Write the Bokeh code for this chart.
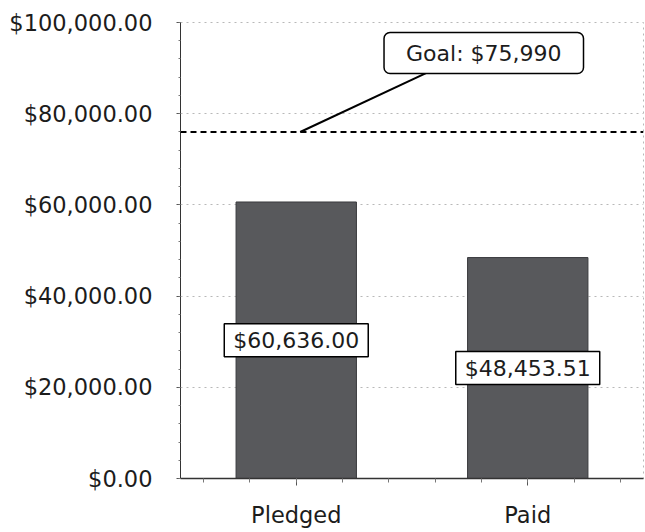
from bokeh.plotting import figure
from bokeh.models import (Range1d, FixedTicker, SingleIntervalTicker, NumeralTickFormatter,
                          Span, Label)
from bokeh.embed import file_html
from bokeh.resources import INLINE

# ---- data ----
categories = ["Pledged", "Paid"]
amounts = [60636.00, 48453.51]
amount_labels = ["$60,636.00", "$48,453.51"]
goal = 75990
goal_label = "Goal: $75,990"
y_max = 100000
y_step = 20000

FONT = "DejaVu Sans"
TXT = "#1c1c1c"

xs = [i + 0.5 for i in range(len(categories))]

p = figure(width=644, height=530, output_backend="svg", toolbar_location=None,
           x_range=Range1d(0, len(categories)), y_range=Range1d(0, y_max),
           min_border_left=180, min_border_right=1, min_border_top=22, min_border_bottom=50,
           background_fill_color="white", border_fill_color="white")

p.vbar(x=xs, top=amounts, width=0.52, fill_color="#58595c", line_color="#3a3b3e", line_width=1)

# axes
p.xaxis.ticker = FixedTicker(ticks=xs,
                             minor_ticks=[i * 0.2 + 0.1 for i in range(len(categories) * 5)])
p.xaxis.major_label_overrides = {x: c for x, c in zip(xs, categories)}
p.yaxis.ticker = SingleIntervalTicker(interval=y_step, num_minor_ticks=5)
p.yaxis.formatter = NumeralTickFormatter(format="$0,0.00")

for ax in (p.xaxis, p.yaxis):
    ax.major_label_text_font = FONT
    ax.major_label_text_font_size = "22.5px"
    ax.major_label_text_color = TXT
    ax.axis_line_color = "#333333"
    ax.major_tick_line_color = "#555555"
    ax.minor_tick_line_color = "#777777"
    ax.major_tick_in = 0
    ax.minor_tick_in = 0

p.xaxis.axis_line_width = 1.5
p.xaxis.major_tick_out = 7
p.xaxis.minor_tick_out = 4
p.xaxis.major_label_standoff = 16
p.yaxis.major_tick_out = 4
p.yaxis.minor_tick_out = 2
p.yaxis.major_label_standoff = 24

p.xgrid.grid_line_color = None
p.ygrid.grid_line_color = "#b8b8b8"
p.ygrid.grid_line_dash = "dotted"
p.outline_line_color = "#b8b8b8"
p.outline_line_dash = "dotted"

# goal line
p.add_layout(Span(location=goal, dimension="width", line_color="black",
                  line_width=2, line_dash="6 4"))

# goal callout (position of the callout box is a layout constant)
goal_box_x, goal_box_y = 1.31, 93300
conn_x0, conn_x1, conn_y1 = 0.517, 1.086, 89500
p.segment(x0=[conn_x0], y0=[goal], x1=[conn_x1], y1=[conn_y1], line_color="black", line_width=2)
p.add_layout(Label(x=goal_box_x, y=goal_box_y, text=goal_label, text_align="center",
                   text_baseline="middle", text_font=FONT, text_font_size="22px",
                   text_color=TXT, background_fill_color="white",
                   border_line_color="black", border_line_width=1.5,
                   padding=dict(left=22, right=22, top=8, bottom=8), border_radius=6))

# bar value labels at half height
for x, a, t in zip(xs, amounts, amount_labels):
    p.add_layout(Label(x=x, y=a / 2, text=t, text_align="center", text_baseline="middle",
                       text_font=FONT, text_font_size="22px", text_color=TXT,
                       background_fill_color="white", border_line_color="black",
                       border_line_width=1.5, padding=dict(left=9, right=9, top=4, bottom=4)))

open("out.html", "w").write(file_html(p, INLINE))
